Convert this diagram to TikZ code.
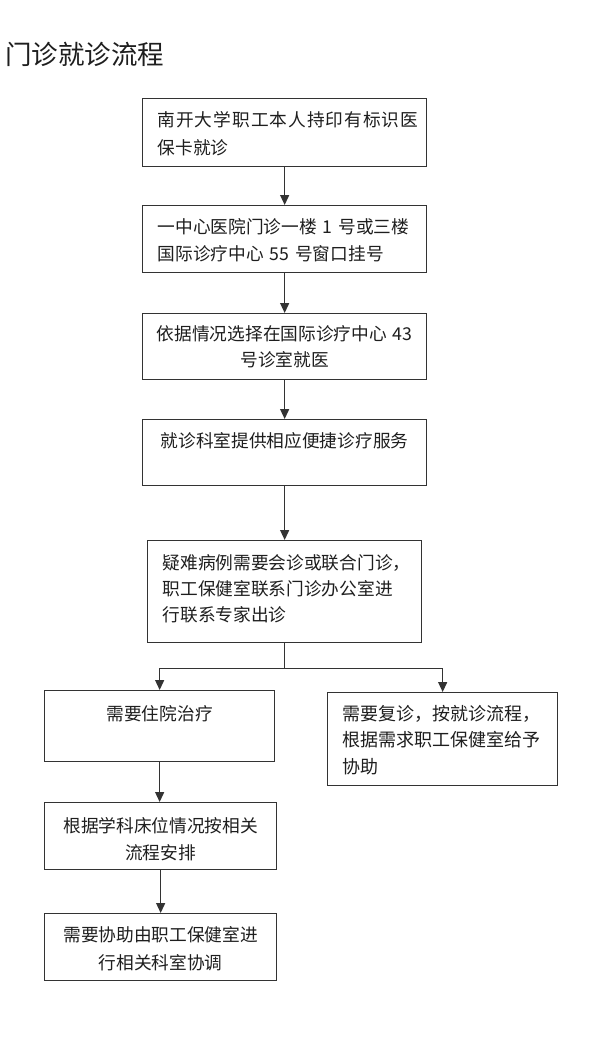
\documentclass[tikz,border=0pt]{standalone}
\usepackage{fontspec}
\setmainfont{Noto Sans CJK SC}
\newfontfamily\widecjk[LetterSpace=5.5]{Noto Sans CJK SC}
\usetikzlibrary{arrows.meta}
\definecolor{ink}{HTML}{1E1E1E}
\definecolor{linec}{HTML}{333333}
\begin{document}
\begin{tikzpicture}[x=1pt,y=-1pt,
  box/.style={draw=linec, line width=1.3pt, anchor=north west, inner ysep=0pt, text=ink},
  arr/.style={draw=linec, line width=1.3pt, -{Triangle[width=9pt,length=10pt]}},
  plain/.style={draw=linec, line width=1.3pt},
  fs/.style={font=\fontsize{17.7}{#1}\selectfont}
]
\fill[white] (0,0) rectangle (600,1043);
\useasboundingbox (0,0) rectangle (600,1043);

\node[anchor=base west, inner sep=0pt, text=ink, font=\fontsize{26.5}{30}\selectfont] (title) at (5,65) {门诊就诊流程};

\node[box, fs=28, inner xsep=15pt, text width=254pt, align=left, text height=27.7pt, text depth=40.3pt] (b1) at (142,98)
  {{\widecjk 南开大学职工本人持印有标识医}\\保卡就诊};
\node[box, fs=27, inner xsep=15pt, text width=254pt, align=left, text height=27.7pt, text depth=39.3pt] (b2) at (142,205)
  {一中心医院门诊一楼~1~号或三楼\\国际诊疗中心~55~号窗口挂号};
\node[box, fs=26, inner xsep=8pt, text width=268pt, align=center, text height=26.7pt, text depth=39.3pt] (b3) at (142,313)
  {依据情况选择在国际诊疗中心~43\\号诊室就医};
\node[box, fs=27, inner xsep=18pt, text width=248pt, align=left, text height=27.7pt, text depth=38.3pt] (b4) at (142,419)
  {就诊科室提供相应便捷诊疗服务};
\node[box, fs=26, inner xsep=15pt, text width=244pt, align=left, text height=28.7pt, text depth=73.3pt] (b5) at (147,540)
  {疑难病例需要会诊或联合门诊，\\职工保健室联系门诊办公室进\\行联系专家出诊};
\node[box, fs=27, inner xsep=15pt, text width=200pt, align=center, text height=29.7pt, text depth=41.3pt] (b6) at (44,690)
  {需要住院治疗};
\node[box, font=\fontsize{18}{26.5}\selectfont, inner xsep=15pt, text width=200pt, align=left, text height=27.7pt, text depth=65.3pt] (b7) at (327,692)
  {需要复诊，按就诊流程，\\根据需求职工保健室给予\\协助};
\node[box, fs=27, inner xsep=15pt, text width=202pt, align=center, text height=29.7pt, text depth=37.3pt] (b8) at (44,802)
  {根据学科床位情况按相关\\流程安排};
\node[box, fs=28, inner xsep=15pt, text width=202pt, align=center, text height=27.7pt, text depth=39.3pt] (b9) at (44,913)
  {需要协助由职工保健室进\\行相关科室协调};

\coordinate (split) at ([yshift=-25pt]b5.south);
\draw[arr] (b1.south) -- (b2.north);
\draw[arr] (b2.south) -- (b3.north);
\draw[arr] (b3.south) -- (b4.north);
\draw[arr] (b4.south) -- (b5.north);
\draw[plain] (b5.south) -- (split);
\draw[arr] (split) -| (b6.north);
\draw[arr] (split) -| (b7.north);
\draw[arr] (b6.south) -- (b6.south |- b8.north);
\draw[arr] (b8.south) -- (b9.north);
\end{tikzpicture}
\end{document}
